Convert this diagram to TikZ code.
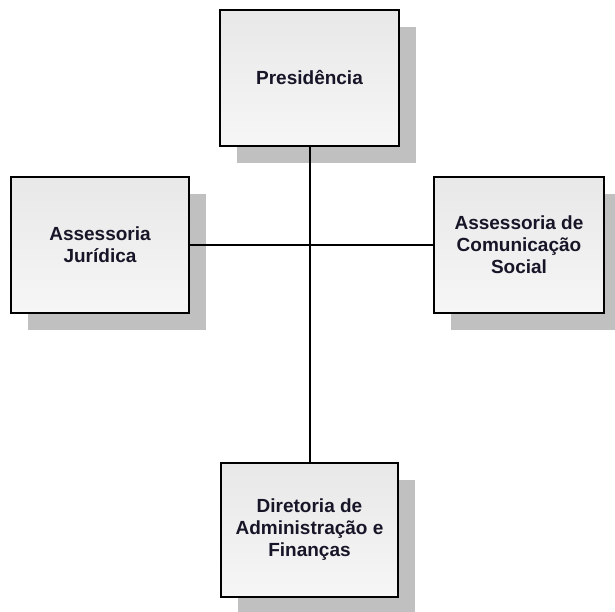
\documentclass[tikz,border=0pt]{standalone}
\usepackage{fontspec}
\setmainfont{Liberation Sans}
\usetikzlibrary{shadows}
\definecolor{boxtop}{RGB}{232,232,232}
\definecolor{boxbottom}{RGB}{246,246,246}
\definecolor{shadowgray}{RGB}{192,192,192}
\definecolor{textdark}{RGB}{22,22,40}
\tikzset{
  orgbox/.style={draw=black, line width=1.5pt, top color=boxtop, bottom color=boxbottom,
    minimum height=136pt, inner sep=0pt, align=center, text=textdark,
    font=\fontsize{19}{22}\selectfont\bfseries,
    drop shadow={shadow xshift=17pt, shadow yshift=-17pt, fill=shadowgray, opacity=1}},
  orgline/.style={draw=black, line width=2pt}
}
\begin{document}
\begin{tikzpicture}[x=1pt, y=-1pt]
  \useasboundingbox (0,0) rectangle (615,612);
  \node[orgbox, minimum width=179pt] (pres) at (309.5,78) {Presidência};
  \node[orgbox, minimum width=178pt] (jur) at (100,245) {Assessoria\\Jurídica};
  \node[orgbox, minimum width=170pt] (com) at (519,245) {Assessoria de\\Comunicação\\Social};
  \node[orgbox, minimum width=177pt, minimum height=134pt] (dir) at (309.5,530) {Diretoria de\\Administração e\\Finanças};
  \draw[orgline] (pres) -- (dir);
  \draw[orgline] (jur) -- (com);
\end{tikzpicture}
\end{document}
